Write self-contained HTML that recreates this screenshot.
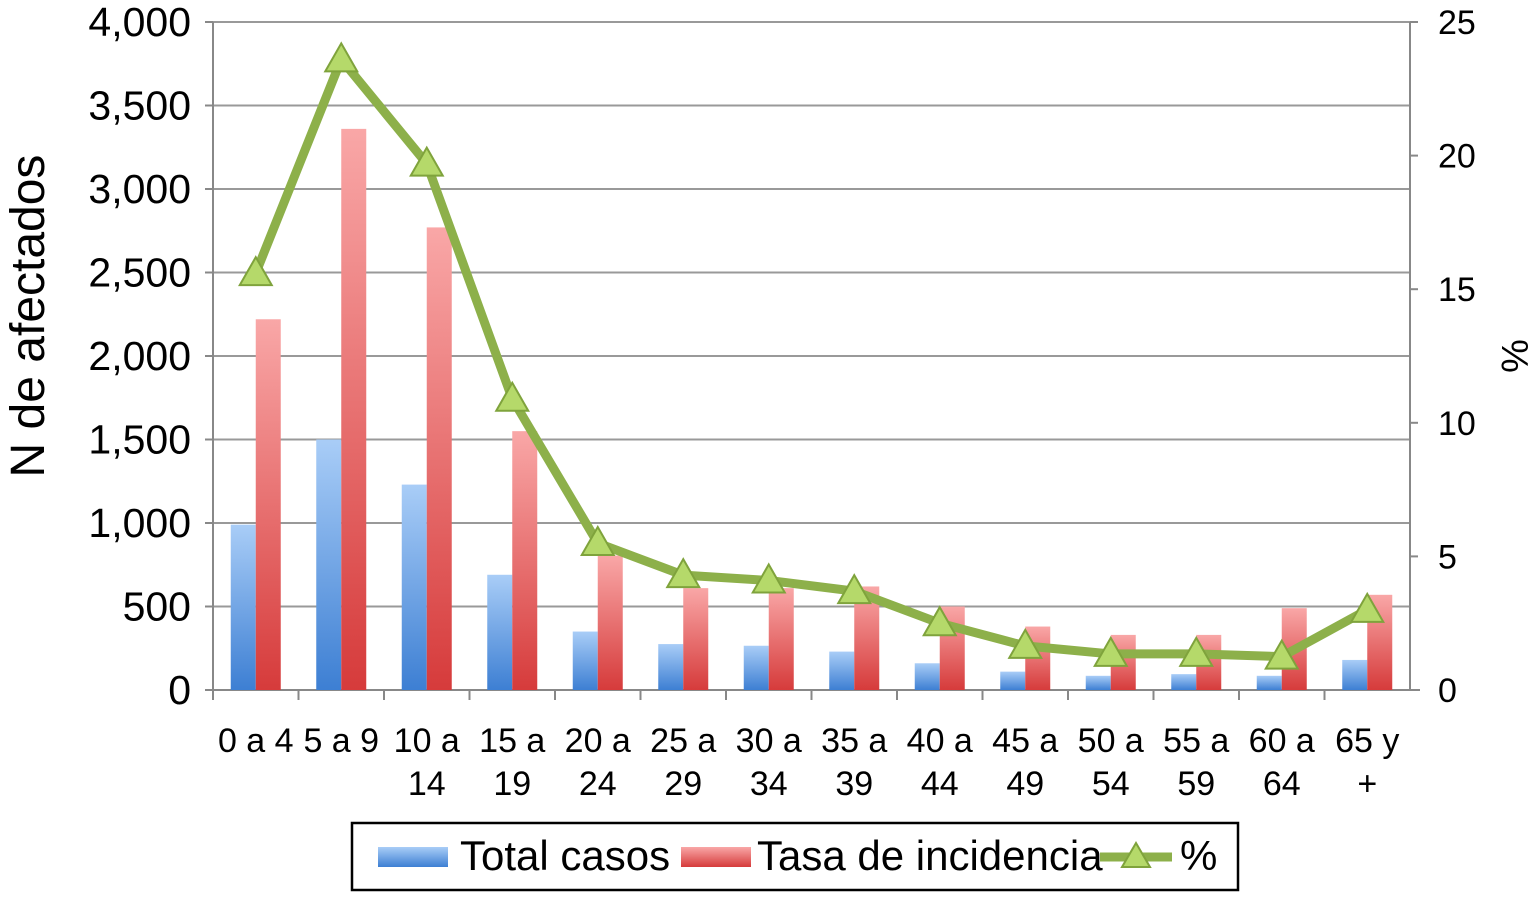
<!DOCTYPE html>
<html><head><meta charset="utf-8"><style>
body{margin:0;background:#fff;font-family:"Liberation Sans",sans-serif;}
svg text{font-family:"Liberation Sans",sans-serif;}
</style></head><body>
<svg id="chart" width="1537" height="893" viewBox="0 0 1537 893" xmlns="http://www.w3.org/2000/svg">
<defs>
<linearGradient id="gb" x1="0" y1="0" x2="0" y2="1"><stop offset="0" stop-color="#a9cdf7"/><stop offset="1" stop-color="#3d7fd3"/></linearGradient>
<linearGradient id="gr" x1="0" y1="0" x2="0" y2="1"><stop offset="0" stop-color="#f9a7a7"/><stop offset="1" stop-color="#d63b3b"/></linearGradient>
</defs>
<g id="grid"></g><g id="bars"></g><g id="line"></g><g id="axes"></g>
<text transform="translate(44,316) rotate(-90)" text-anchor="middle" font-size="48" fill="#000">N de afectados</text>
<text transform="translate(1502,356) rotate(90)" text-anchor="middle" font-size="38" fill="#000">%</text>
<g>
<rect x="352" y="823" width="886" height="67" fill="#fff" stroke="#000" stroke-width="2.5"/>
<rect x="378" y="847" width="70" height="20" fill="url(#gb)"/>
<text x="460" y="870" font-size="42">Total casos</text>
<rect x="681" y="847" width="70" height="20" fill="url(#gr)"/>
<text x="757" y="870" font-size="42">Tasa de incidencia</text>
<line x1="1100" y1="857" x2="1172" y2="857" stroke="#8db04a" stroke-width="9"/>
<polygon points="1136,843 1150,867 1122,867" fill="#b5d96a" stroke="#7fa33c" stroke-width="2"/>
<text x="1180" y="870" font-size="42">%</text>
</g>
</svg>
<script>
const categories=[["0 a 4"],["5 a 9"],["10 a","14"],["15 a","19"],["20 a","24"],["25 a","29"],["30 a","34"],["35 a","39"],["40 a","44"],["45 a","49"],["50 a","54"],["55 a","59"],["60 a","64"],["65 y","+"]];
const totalCasos=[990,1500,1230,690,350,275,265,230,160,110,85,95,85,180];
const tasaIncidencia=[2220,3360,2770,1550,805,610,610,620,500,380,330,330,490,570];
const pct=[15.6,23.6,19.7,10.9,5.5,4.3,4.1,3.7,2.5,1.65,1.35,1.35,1.25,3.0];
const leftTicks=[0,500,1000,1500,2000,2500,3000,3500,4000];
const rightTicks=[0,5,10,15,20,25];
const NS="http://www.w3.org/2000/svg";
const X0=213,X1=1410,Y0=690,Y1=22;
const bw=(X1-X0)/categories.length;
const yL=v=>Y0-(v/4000)*(Y0-Y1);
const yR=v=>Y0-(v/25)*(Y0-Y1);
const xc=i=>X0+bw*(i+0.5);
function mk(tag,attrs,parent){const e=document.createElementNS(NS,tag);for(const k in attrs)e.setAttribute(k,attrs[k]);document.getElementById(parent).appendChild(e);return e;}
leftTicks.forEach(t=>{
  const l=mk('line',{x1:X0,x2:X1,y1:yL(t),y2:yL(t),stroke:t===0?'#888':'#999','stroke-width':2},'grid');
  
  
  mk('line',{x1:X0-8,x2:X0,y1:yL(t),y2:yL(t),stroke:'#888','stroke-width':2},'axes');
  const tx=mk('text',{x:X0-22,y:yL(t)+14,'text-anchor':'end','font-size':41},'axes');
  tx.textContent=t.toLocaleString('en-US');
  
  
});
rightTicks.forEach(t=>{
  mk('line',{x1:X1,x2:X1+8,y1:yR(t),y2:yR(t),stroke:'#888','stroke-width':2},'axes');
  const tx=mk('text',{x:X1+28,y:yR(t)+12,'text-anchor':'start','font-size':34},'axes');
  tx.textContent=t;
  
  
});
mk('line',{x1:X0,x2:X0,y1:Y1,y2:Y0,stroke:'#888','stroke-width':2},'axes');
mk('line',{x1:X1,x2:X1,y1:Y1,y2:Y0,stroke:'#888','stroke-width':2},'axes');
categories.forEach((c,i)=>{
  mk('line',{x1:X0+bw*i,x2:X0+bw*i,y1:Y0,y2:Y0+10,stroke:'#888','stroke-width':2},'axes');
  c.forEach((s,j)=>{
    const tx=mk('text',{x:xc(i),y:752+j*43,'text-anchor':'middle','font-size':34},'axes');
    tx.textContent=s;
    
    
  });
  const b=mk('rect',{x:xc(i)-25,y:yL(totalCasos[i]),width:25,height:Y0-yL(totalCasos[i]),fill:'url(#gb)'},'bars');
  
  
  const r=mk('rect',{x:xc(i),y:yL(tasaIncidencia[i]),width:25,height:Y0-yL(tasaIncidencia[i]),fill:'url(#gr)'},'bars');
  
  
});
mk('line',{x1:X1,x2:X1+10,y1:Y0,y2:Y0,stroke:'#888','stroke-width':2},'axes');
const pl=mk('polyline',{points:pct.map((v,i)=>xc(i)+','+yR(v)).join(' '),fill:'none',stroke:'#8db04a','stroke-width':9,'stroke-linejoin':'round'},'line');


pct.forEach((v,i)=>{
  const x=xc(i),y=yR(v);
  const p=mk('polygon',{points:`${x},${y-16} ${x+16},${y+12} ${x-16},${y+12}`,fill:'#b5d96a',stroke:'#7fa33c','stroke-width':2},'line');
  
  
});
</script>
</body></html>
